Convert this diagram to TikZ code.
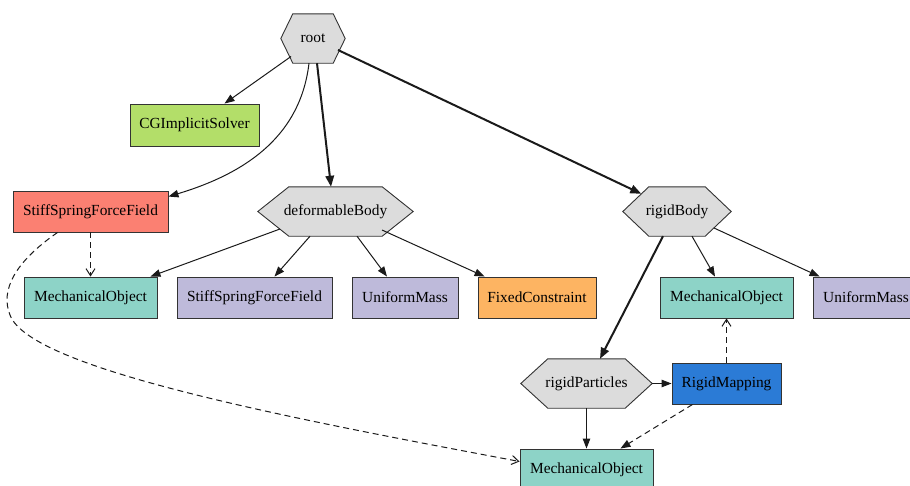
\documentclass[tikz,border=0pt]{standalone}
\usepackage{fontspec}
\setmainfont{Liberation Serif}
\usetikzlibrary{arrows.meta,calc,backgrounds}
\definecolor{bordc}{HTML}{333333}
\definecolor{linec}{HTML}{1A1A1A}
\definecolor{hexc}{HTML}{DCDCDC}
\definecolor{cgic}{HTML}{B3DE69}
\definecolor{redc}{HTML}{FB8072}
\definecolor{tealc}{HTML}{8DD3C7}
\definecolor{purpc}{HTML}{BEBADA}
\definecolor{orangec}{HTML}{FDB462}
\definecolor{bluec}{HTML}{2B7BD6}
\newcommand\hexdraw[2]{\path[draw=bordc,fill=hexc,line width=0.9pt] (#1.west) -- ($(#1.north west)+(#2,0)$) -- ($(#1.north east)+(-#2,0)$) -- (#1.east) -- ($(#1.south east)+(-#2,0)$) -- ($(#1.south west)+(#2,0)$) -- cycle;}
\tikzset{
  lbl/.style={font=\fontsize{15.4}{18}\selectfont, text=black, inner sep=0pt},
  box/.style={lbl, draw=bordc, line width=0.9pt, minimum height=41pt},
  hexnode/.style={lbl, minimum height=49pt},
  conn/.style={draw=linec, line width=1pt, -{Triangle[length=10pt,width=7.5pt]}},
  boldconn/.style={draw=linec, line width=2pt, -{Triangle[length=11pt,width=8.5pt]}},
  dconn/.style={draw=linec, line width=1pt, dash pattern=on 6pt off 4pt, -{Straight Barb[length=7pt,width=9pt]}},
  dfconn/.style={conn, dash pattern=on 6pt off 4pt},
}
\begin{document}
\begin{tikzpicture}[x=1pt,y=-1pt]
\useasboundingbox (0,0) rectangle (910,485);
\clip (0,0) rectangle (910,485);
% hexagon nodes
\node[hexnode, minimum width=64pt] (root) at (313,38.5) {root};
\node[hexnode, minimum width=155pt] (db) at (335.5,211.5) {deformableBody};
\node[hexnode, minimum width=108pt] (rb) at (677,211.5) {rigidBody};
\node[hexnode, minimum width=131pt] (rp) at (586.5,383.5) {rigidParticles};
\begin{scope}[on background layer]
\hexdraw{root}{12}
\hexdraw{db}{31}
\hexdraw{rb}{26}
\hexdraw{rp}{27}
\end{scope}
% boxes
\node[box, fill=cgic, minimum width=129pt, minimum height=42pt] (cgi) at (194.5,125) {CGImplicitSolver};
\node[box, fill=redc, minimum width=155pt] (ssf1) at (90.5,211.5) {StiffSpringForceField};
\node[box, fill=tealc, minimum width=133pt] (mo1) at (90.5,297.5) {MechanicalObject};
\node[box, fill=purpc, minimum width=155pt] (ssf2) at (254.5,297.5) {StiffSpringForceField};
\node[box, fill=purpc, minimum width=106pt] (um1) at (405,297.5) {UniformMass};
\node[box, fill=orangec, minimum width=118pt] (fc) at (537,297.5) {FixedConstraint};
\node[box, fill=tealc, minimum width=133pt] (mo2) at (726.5,297.5) {MechanicalObject};
\node[box, fill=purpc, minimum width=106pt] (um2) at (866,297.5) {UniformMass};
\node[box, fill=bluec, minimum width=109pt] (rm) at (726.5,383.5) {RigidMapping};
\node[box, fill=tealc, minimum width=133pt] (mo3) at (586.5,469.5) {MechanicalObject};
% edges from root
\draw[conn] ($(root)+(-22,18)$) -- ($(cgi.north)+(30,0)$);
\draw[conn] ($(root.south)+(-4,0)$) .. controls (300,140) and (240,175) .. ($(ssf1.north east)+(0,6)$);
\draw[boldconn] ($(root.south)+(4,0)$) -- ($(db.north)+(-4.5,0)$);
\draw[boldconn] ($(root)+(25,11.5)$) -- ($(rb.north west)+(18.5,7)$);
% edges from deformableBody
\draw[conn] ($(db)+(-55.5,17.5)$) -- ($(mo1.north east)+(-7,0)$);
\draw[conn] ($(db.south)+(-25.5,0)$) -- ($(ssf2.north)+(20,0)$);
\draw[conn] ($(db.south)+(21.5,0)$) -- ($(um1.north)+(-18,0)$);
\draw[conn] ($(db)+(46.5,18.5)$) -- ($(fc.north west)+(7,0)$);
% edges from rigidBody
\draw[conn] ($(rb.south)+(15,0)$) -- ($(mo2.north)+(-11.5,0)$);
\draw[conn] ($(rb)+(37,16.5)$) -- ($(um2.north west)+(7,0)$);
\draw[boldconn] ($(rb.south)+(-14,0)$) -- ($(rp.north)+(13.5,0)$);
% edges from rigidParticles / RigidMapping
\draw[conn] (rp.east) -- (rm.west);
\draw[conn] (rp.south) -- (mo3.north);
\draw[dfconn] ($(rm.south west)+(21,0)$) -- ($(mo3.north east)+(-33,0)$);
\draw[dconn] (rm.north) -- (mo2.south);
% edges from StiffSpringForceField
\draw[dconn] (ssf1.south) -- (mo1.south |- mo1.north);
\draw[dconn] ($(ssf1.south west)+(45,0)$) .. controls (15,262) and (0,290) .. (10,315) .. controls (30,370) and (300,420) .. ($(mo3.west)+(0,-8)$);
\end{tikzpicture}
\end{document}
